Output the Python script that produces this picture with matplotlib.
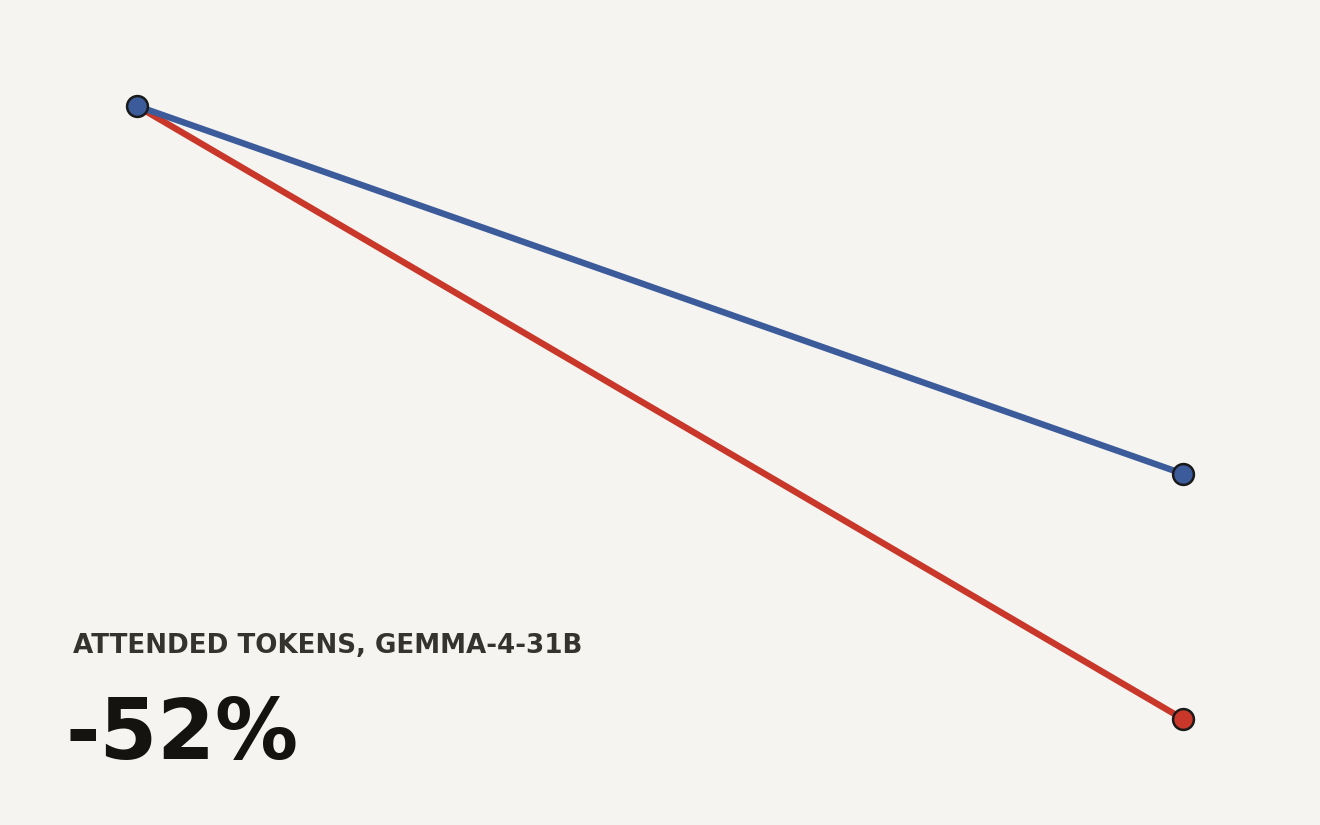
import matplotlib
matplotlib.use("Agg")
import matplotlib.pyplot as plt

# normalized attended tokens (start = 100)
stages = [0, 1]
blue_vals = [100, 68.8]
red_vals = [100, 48]
header = "ATTENDED TOKENS, GEMMA-4-31B"
headline = "-52%"

BG = "#f5f4f0"
BLUE = "#3b5b9a"
RED = "#c8372a"

fig = plt.figure(figsize=(13.2, 8.25), dpi=100, facecolor=BG)
ax = fig.add_axes([0, 0, 1, 1])
ax.set_facecolor(BG)

# map data so x=0 -> 137px, x=1 -> 1183px; y=100 -> 106px, y=48 -> 719px
px_x = 1183 - 137
ax.set_xlim(-137 / px_x, (1320 - 137) / px_x)
px_y = (719 - 106) / 52
ax.set_ylim(48 - (825 - 719) / px_y, 100 + 106 / px_y)

ax.plot(stages, red_vals, color=RED, lw=4.6, solid_capstyle="round", zorder=2)
ax.plot(stages, blue_vals, color=BLUE, lw=4.6, solid_capstyle="round", zorder=3)
ax.plot(stages[1], red_vals[1], "o", ms=15, mfc=RED, mec="#1a1a1a", mew=1.8, zorder=4)
ax.plot(stages, blue_vals, "o", ms=15, mfc=BLUE, mec="#1a1a1a", mew=1.8, zorder=5)

ax.axis("off")

fig.text(73 / 1320, 1 - 646 / 825, header, fontsize=18.8, fontweight="bold",
         color="#35332e", va="center", ha="left", family="DejaVu Sans")
fig.text(66 / 1320, 1 - 736 / 825, headline, fontsize=59.8, fontweight="bold",
         color="#15130f", va="center", ha="left", family="DejaVu Sans")

fig.savefig("out.png", dpi=100, facecolor=BG)
